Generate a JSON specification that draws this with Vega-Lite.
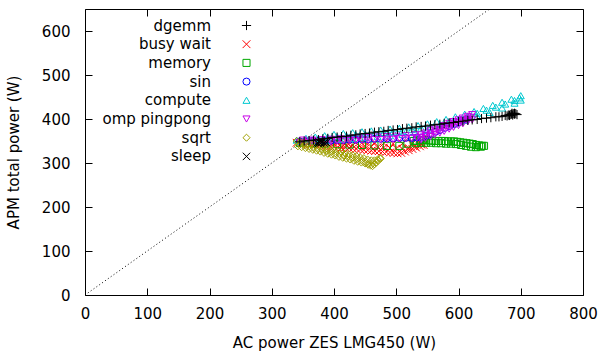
{
"$schema":"https://vega.github.io/schema/vega-lite/v6.json",
"width":498,"height":286,
"autosize":{"type":"none"},
"padding":{"left":85,"top":9,"right":17,"bottom":61},
"background":"white",
"config":{
 "view":{"stroke":"black","strokeWidth":1},
 "font":"DejaVu Sans",
 "axis":{"grid":false,"domainColor":"black","tickColor":"black","labelColor":"black","titleColor":"black","labelFont":"DejaVu Sans","titleFont":"DejaVu Sans","labelFontSize":15,"titleFontSize":15,"titleFontWeight":"normal","tickSize":-7,"labelPadding":12,"domain":false,"labelFlush":false},
 "legend":{"labelFont":"DejaVu Sans","labelFontSize":15,"labelColor":"black"}
},
"resolve":{"axis":{"x":"independent","y":"independent"}},
"layer":[
{"data":{"values":[{"x":0,"y":0},{"x":650,"y":650}]},
 "mark":{"type":"line","color":"black","strokeWidth":1,"strokeDash":[1,2.5]},
 "encoding":{
  "x":{"field":"x","type":"quantitative","scale":{"domain":[0,800],"nice":false,"zero":false},"axis":{"orient":"top","labels":false,"title":null,"values":[0,100,200,300,400,500,600,700,800]}},
  "y":{"field":"y","type":"quantitative","scale":{"domain":[0,650],"nice":false,"zero":false},"axis":{"orient":"right","labels":false,"title":null,"values":[0,100,200,300,400,500,600]}}
 }},
{"data":{"values":[
{"s":"busy wait","x":340,"y":346},{"s":"busy wait","x":346,"y":345},{"s":"busy wait","x":352,"y":344},{"s":"busy wait","x":358,"y":343},{"s":"busy wait","x":364,"y":342},{"s":"busy wait","x":370,"y":342},{"s":"busy wait","x":376,"y":341},{"s":"busy wait","x":382,"y":340},{"s":"busy wait","x":388,"y":339},{"s":"busy wait","x":394,"y":338},{"s":"busy wait","x":400,"y":337},{"s":"busy wait","x":406,"y":336},{"s":"busy wait","x":412,"y":335},{"s":"busy wait","x":418,"y":335},{"s":"busy wait","x":424,"y":334},{"s":"busy wait","x":430,"y":333},{"s":"busy wait","x":436,"y":332},{"s":"busy wait","x":442,"y":331},{"s":"busy wait","x":448,"y":330},{"s":"busy wait","x":454,"y":329},{"s":"busy wait","x":460,"y":328},{"s":"busy wait","x":466,"y":327},{"s":"busy wait","x":472,"y":327},{"s":"busy wait","x":478,"y":326},{"s":"busy wait","x":484,"y":325},{"s":"busy wait","x":490,"y":324},{"s":"busy wait","x":496,"y":323},{"s":"busy wait","x":502,"y":322},{"s":"busy wait","x":508,"y":323},{"s":"busy wait","x":514,"y":326},{"s":"busy wait","x":520,"y":329},{"s":"busy wait","x":526,"y":332},{"s":"busy wait","x":532,"y":335},{"s":"busy wait","x":538,"y":338},{"s":"busy wait","x":544,"y":341},
{"s":"busy wait","x":350,"y":347},{"s":"busy wait","x":360,"y":346},{"s":"busy wait","x":370,"y":345},{"s":"busy wait","x":380,"y":344},{"s":"busy wait","x":390,"y":343},{"s":"busy wait","x":400,"y":342},{"s":"busy wait","x":410,"y":341},{"s":"busy wait","x":420,"y":341},{"s":"busy wait","x":430,"y":340},{"s":"busy wait","x":440,"y":339},{"s":"busy wait","x":450,"y":338},{"s":"busy wait","x":460,"y":337},{"s":"busy wait","x":470,"y":336},{"s":"busy wait","x":480,"y":335},{"s":"busy wait","x":490,"y":334},{"s":"busy wait","x":500,"y":333},{"s":"busy wait","x":510,"y":332},{"s":"busy wait","x":520,"y":334},{"s":"busy wait","x":530,"y":338},{"s":"busy wait","x":540,"y":342},
{"s":"busy wait","x":360,"y":350},{"s":"busy wait","x":375,"y":350},{"s":"busy wait","x":390,"y":349},{"s":"busy wait","x":405,"y":349},{"s":"busy wait","x":420,"y":348},{"s":"busy wait","x":435,"y":347},{"s":"busy wait","x":450,"y":347},{"s":"busy wait","x":465,"y":346},{"s":"busy wait","x":480,"y":345},{"s":"busy wait","x":495,"y":344},{"s":"busy wait","x":510,"y":344},{"s":"busy wait","x":525,"y":343},{"s":"busy wait","x":540,"y":344},
{"s":"memory","x":345,"y":346},{"s":"memory","x":365,"y":345},{"s":"memory","x":385,"y":344},{"s":"memory","x":405,"y":343},{"s":"memory","x":425,"y":342},{"s":"memory","x":445,"y":341},{"s":"memory","x":465,"y":340},{"s":"memory","x":485,"y":339},{"s":"memory","x":505,"y":339},{"s":"memory","x":518,"y":344},
{"s":"memory","x":528,"y":350},{"s":"memory","x":533,"y":351},{"s":"memory","x":538,"y":352},{"s":"memory","x":543,"y":352},{"s":"memory","x":548,"y":352},{"s":"memory","x":553,"y":351},{"s":"memory","x":558,"y":351},{"s":"memory","x":563,"y":350},{"s":"memory","x":568,"y":350},{"s":"memory","x":573,"y":350},{"s":"memory","x":578,"y":350},{"s":"memory","x":583,"y":349},{"s":"memory","x":588,"y":349},{"s":"memory","x":593,"y":349},{"s":"memory","x":598,"y":348},{"s":"memory","x":603,"y":347},{"s":"memory","x":608,"y":346},{"s":"memory","x":613,"y":345},{"s":"memory","x":618,"y":344},{"s":"memory","x":623,"y":343},{"s":"memory","x":628,"y":341},{"s":"memory","x":633,"y":340},{"s":"memory","x":638,"y":339},{"s":"memory","x":641,"y":339},
{"s":"memory","x":532,"y":345},{"s":"memory","x":540,"y":346},{"s":"memory","x":548,"y":346},{"s":"memory","x":556,"y":346},{"s":"memory","x":564,"y":345},{"s":"memory","x":572,"y":345},{"s":"memory","x":580,"y":344},{"s":"memory","x":588,"y":344},{"s":"memory","x":596,"y":343},{"s":"memory","x":604,"y":341},{"s":"memory","x":612,"y":339},{"s":"memory","x":620,"y":337},{"s":"memory","x":628,"y":336},{"s":"memory","x":636,"y":337},
{"s":"sin","x":345,"y":349},{"s":"sin","x":355,"y":349},{"s":"sin","x":365,"y":350},{"s":"sin","x":375,"y":350},{"s":"sin","x":385,"y":351},{"s":"sin","x":395,"y":351},{"s":"sin","x":405,"y":352},{"s":"sin","x":415,"y":352},{"s":"sin","x":425,"y":353},{"s":"sin","x":435,"y":353},{"s":"sin","x":445,"y":354},{"s":"sin","x":455,"y":354},{"s":"sin","x":465,"y":355},{"s":"sin","x":475,"y":355},{"s":"sin","x":485,"y":356},{"s":"sin","x":495,"y":356},{"s":"sin","x":505,"y":357},{"s":"sin","x":515,"y":357},{"s":"sin","x":525,"y":357},{"s":"sin","x":533,"y":358},{"s":"sin","x":540,"y":358},{"s":"sin","x":548,"y":362},{"s":"sin","x":555,"y":366},{"s":"sin","x":563,"y":371},{"s":"sin","x":570,"y":375},{"s":"sin","x":578,"y":380},{"s":"sin","x":585,"y":384},{"s":"sin","x":593,"y":388},{"s":"sin","x":600,"y":392},{"s":"sin","x":606,"y":396},{"s":"sin","x":612,"y":399},
{"s":"compute","x":340,"y":352},{"s":"compute","x":355,"y":356},{"s":"compute","x":370,"y":359},{"s":"compute","x":385,"y":362},{"s":"compute","x":400,"y":365},{"s":"compute","x":415,"y":367},{"s":"compute","x":430,"y":369},{"s":"compute","x":445,"y":371},{"s":"compute","x":460,"y":373},{"s":"compute","x":475,"y":375},{"s":"compute","x":490,"y":377},{"s":"compute","x":505,"y":379},{"s":"compute","x":520,"y":382},{"s":"compute","x":535,"y":385},{"s":"compute","x":550,"y":389},{"s":"compute","x":565,"y":394},{"s":"compute","x":580,"y":399},{"s":"compute","x":595,"y":405},{"s":"compute","x":610,"y":411},{"s":"compute","x":625,"y":417},{"s":"compute","x":640,"y":424},{"s":"compute","x":655,"y":431},{"s":"compute","x":670,"y":438},{"s":"compute","x":685,"y":445},{"s":"compute","x":700,"y":453},
{"s":"compute","x":345,"y":349},{"s":"compute","x":360,"y":353},{"s":"compute","x":375,"y":356},{"s":"compute","x":390,"y":358},{"s":"compute","x":405,"y":360},{"s":"compute","x":420,"y":362},{"s":"compute","x":435,"y":364},{"s":"compute","x":450,"y":365},{"s":"compute","x":465,"y":367},{"s":"compute","x":480,"y":369},{"s":"compute","x":495,"y":371},{"s":"compute","x":510,"y":373},{"s":"compute","x":525,"y":376},{"s":"compute","x":540,"y":379},{"s":"compute","x":555,"y":383},{"s":"compute","x":570,"y":388},{"s":"compute","x":585,"y":394},{"s":"compute","x":600,"y":400},{"s":"compute","x":615,"y":406},{"s":"compute","x":630,"y":413},{"s":"compute","x":645,"y":420},{"s":"compute","x":660,"y":427},{"s":"compute","x":675,"y":434},{"s":"compute","x":690,"y":442},{"s":"compute","x":698,"y":448},
{"s":"compute","x":350,"y":346},{"s":"compute","x":370,"y":349},{"s":"compute","x":390,"y":352},{"s":"compute","x":410,"y":354},{"s":"compute","x":430,"y":356},{"s":"compute","x":450,"y":358},{"s":"compute","x":470,"y":360},{"s":"compute","x":490,"y":362},{"s":"compute","x":510,"y":365},{"s":"compute","x":530,"y":369},{"s":"compute","x":550,"y":374},{"s":"compute","x":570,"y":381},{"s":"compute","x":590,"y":389},{"s":"compute","x":610,"y":397},{"s":"compute","x":630,"y":406},{"s":"compute","x":650,"y":415},{"s":"compute","x":670,"y":425},{"s":"compute","x":690,"y":436},{"s":"compute","x":700,"y":443},
{"s":"omp pingpong","x":345,"y":347},{"s":"omp pingpong","x":355,"y":347},{"s":"omp pingpong","x":365,"y":348},{"s":"omp pingpong","x":375,"y":348},{"s":"omp pingpong","x":385,"y":349},{"s":"omp pingpong","x":395,"y":349},{"s":"omp pingpong","x":405,"y":350},{"s":"omp pingpong","x":415,"y":350},{"s":"omp pingpong","x":425,"y":351},{"s":"omp pingpong","x":435,"y":351},{"s":"omp pingpong","x":445,"y":352},{"s":"omp pingpong","x":455,"y":352},{"s":"omp pingpong","x":465,"y":353},{"s":"omp pingpong","x":475,"y":353},{"s":"omp pingpong","x":485,"y":354},{"s":"omp pingpong","x":495,"y":354},{"s":"omp pingpong","x":505,"y":355},{"s":"omp pingpong","x":515,"y":355},{"s":"omp pingpong","x":525,"y":356},{"s":"omp pingpong","x":533,"y":357},{"s":"omp pingpong","x":540,"y":358},
{"s":"omp pingpong","x":350,"y":352},{"s":"omp pingpong","x":365,"y":352},{"s":"omp pingpong","x":380,"y":353},{"s":"omp pingpong","x":395,"y":354},{"s":"omp pingpong","x":410,"y":355},{"s":"omp pingpong","x":425,"y":356},{"s":"omp pingpong","x":440,"y":357},{"s":"omp pingpong","x":455,"y":358},{"s":"omp pingpong","x":470,"y":359},{"s":"omp pingpong","x":485,"y":360},{"s":"omp pingpong","x":500,"y":361},{"s":"omp pingpong","x":515,"y":362},{"s":"omp pingpong","x":530,"y":364},
{"s":"omp pingpong","x":540,"y":364},{"s":"omp pingpong","x":547,"y":368},{"s":"omp pingpong","x":555,"y":373},{"s":"omp pingpong","x":562,"y":377},{"s":"omp pingpong","x":570,"y":381},{"s":"omp pingpong","x":577,"y":385},{"s":"omp pingpong","x":585,"y":390},{"s":"omp pingpong","x":592,"y":394},{"s":"omp pingpong","x":600,"y":398},{"s":"omp pingpong","x":607,"y":402},{"s":"omp pingpong","x":615,"y":406},{"s":"omp pingpong","x":622,"y":410},
{"s":"omp pingpong","x":540,"y":352},{"s":"omp pingpong","x":547,"y":356},{"s":"omp pingpong","x":555,"y":360},{"s":"omp pingpong","x":562,"y":364},{"s":"omp pingpong","x":570,"y":368},{"s":"omp pingpong","x":577,"y":372},{"s":"omp pingpong","x":585,"y":377},{"s":"omp pingpong","x":592,"y":381},{"s":"omp pingpong","x":600,"y":385},{"s":"omp pingpong","x":607,"y":389},{"s":"omp pingpong","x":615,"y":394},{"s":"omp pingpong","x":622,"y":398},
{"s":"omp pingpong","x":547,"y":362},{"s":"omp pingpong","x":555,"y":366},{"s":"omp pingpong","x":562,"y":370},{"s":"omp pingpong","x":570,"y":375},{"s":"omp pingpong","x":577,"y":379},{"s":"omp pingpong","x":585,"y":383},{"s":"omp pingpong","x":592,"y":388},{"s":"omp pingpong","x":600,"y":392},{"s":"omp pingpong","x":607,"y":396},{"s":"omp pingpong","x":615,"y":400},{"s":"omp pingpong","x":620,"y":404},
{"s":"sqrt","x":340,"y":350},{"s":"sqrt","x":346,"y":348},{"s":"sqrt","x":352,"y":346},{"s":"sqrt","x":358,"y":344},{"s":"sqrt","x":364,"y":342},{"s":"sqrt","x":370,"y":340},{"s":"sqrt","x":376,"y":338},{"s":"sqrt","x":382,"y":335},{"s":"sqrt","x":388,"y":333},{"s":"sqrt","x":394,"y":331},{"s":"sqrt","x":400,"y":329},{"s":"sqrt","x":406,"y":327},{"s":"sqrt","x":412,"y":325},{"s":"sqrt","x":418,"y":322},{"s":"sqrt","x":424,"y":320},{"s":"sqrt","x":430,"y":318},{"s":"sqrt","x":436,"y":316},{"s":"sqrt","x":442,"y":313},{"s":"sqrt","x":448,"y":311},{"s":"sqrt","x":454,"y":308},{"s":"sqrt","x":460,"y":306},{"s":"sqrt","x":465,"y":306},{"s":"sqrt","x":470,"y":308},{"s":"sqrt","x":474,"y":311},
{"s":"sqrt","x":342,"y":338},{"s":"sqrt","x":348,"y":336},{"s":"sqrt","x":354,"y":334},{"s":"sqrt","x":360,"y":332},{"s":"sqrt","x":366,"y":330},{"s":"sqrt","x":372,"y":328},{"s":"sqrt","x":378,"y":326},{"s":"sqrt","x":384,"y":323},{"s":"sqrt","x":390,"y":321},{"s":"sqrt","x":396,"y":319},{"s":"sqrt","x":402,"y":317},{"s":"sqrt","x":408,"y":314},{"s":"sqrt","x":414,"y":312},{"s":"sqrt","x":420,"y":310},{"s":"sqrt","x":426,"y":308},{"s":"sqrt","x":432,"y":305},{"s":"sqrt","x":438,"y":303},{"s":"sqrt","x":444,"y":301},{"s":"sqrt","x":450,"y":299},{"s":"sqrt","x":455,"y":296},{"s":"sqrt","x":459,"y":294},{"s":"sqrt","x":462,"y":293},{"s":"sqrt","x":465,"y":297},{"s":"sqrt","x":468,"y":301},{"s":"sqrt","x":471,"y":305},{"s":"sqrt","x":475,"y":310},
{"s":"sqrt","x":346,"y":343},{"s":"sqrt","x":353,"y":340},{"s":"sqrt","x":360,"y":338},{"s":"sqrt","x":367,"y":335},{"s":"sqrt","x":374,"y":332},{"s":"sqrt","x":381,"y":330},{"s":"sqrt","x":388,"y":327},{"s":"sqrt","x":395,"y":325},{"s":"sqrt","x":402,"y":322},{"s":"sqrt","x":409,"y":320},{"s":"sqrt","x":416,"y":317},{"s":"sqrt","x":423,"y":315},{"s":"sqrt","x":430,"y":312},{"s":"sqrt","x":437,"y":309},{"s":"sqrt","x":444,"y":306},{"s":"sqrt","x":450,"y":303},{"s":"sqrt","x":456,"y":300},{"s":"sqrt","x":462,"y":299},
{"s":"dgemm","x":345,"y":348},{"s":"dgemm","x":352,"y":350},{"s":"dgemm","x":360,"y":351},{"s":"dgemm","x":367,"y":352},{"s":"dgemm","x":375,"y":353},{"s":"dgemm","x":382,"y":355},{"s":"dgemm","x":390,"y":356},{"s":"dgemm","x":397,"y":358},{"s":"dgemm","x":405,"y":359},{"s":"dgemm","x":412,"y":360},{"s":"dgemm","x":420,"y":361},{"s":"dgemm","x":427,"y":363},{"s":"dgemm","x":435,"y":364},{"s":"dgemm","x":442,"y":366},{"s":"dgemm","x":450,"y":367},{"s":"dgemm","x":457,"y":368},{"s":"dgemm","x":465,"y":370},{"s":"dgemm","x":472,"y":371},{"s":"dgemm","x":480,"y":372},{"s":"dgemm","x":487,"y":374},{"s":"dgemm","x":495,"y":375},{"s":"dgemm","x":502,"y":376},{"s":"dgemm","x":510,"y":378},{"s":"dgemm","x":517,"y":379},{"s":"dgemm","x":525,"y":380},{"s":"dgemm","x":532,"y":382},{"s":"dgemm","x":540,"y":383},{"s":"dgemm","x":547,"y":384},{"s":"dgemm","x":555,"y":386},{"s":"dgemm","x":562,"y":387},{"s":"dgemm","x":570,"y":388},{"s":"dgemm","x":577,"y":390},{"s":"dgemm","x":585,"y":391},{"s":"dgemm","x":592,"y":392},{"s":"dgemm","x":600,"y":394},{"s":"dgemm","x":607,"y":395},{"s":"dgemm","x":615,"y":397},{"s":"dgemm","x":622,"y":398},{"s":"dgemm","x":630,"y":399},{"s":"dgemm","x":637,"y":401},{"s":"dgemm","x":645,"y":402},{"s":"dgemm","x":652,"y":403},{"s":"dgemm","x":660,"y":405},{"s":"dgemm","x":665,"y":405},{"s":"dgemm","x":670,"y":406},{"s":"dgemm","x":675,"y":408},{"s":"dgemm","x":678,"y":407},{"s":"dgemm","x":680,"y":409},{"s":"dgemm","x":683,"y":410},{"s":"dgemm","x":685,"y":411},{"s":"dgemm","x":687,"y":409},{"s":"dgemm","x":688,"y":412},{"s":"dgemm","x":690,"y":411},{"s":"dgemm","x":692,"y":412},{"s":"dgemm","x":694,"y":410},{"s":"dgemm","x":690,"y":413},{"s":"dgemm","x":682,"y":408},{"s":"dgemm","x":686,"y":413},
{"s":"sleep","x":373,"y":346},{"s":"sleep","x":376,"y":348},{"s":"sleep","x":378,"y":345},{"s":"sleep","x":380,"y":347},{"s":"sleep","x":382,"y":349},{"s":"sleep","x":384,"y":346},{"s":"sleep","x":386,"y":348},{"s":"sleep","x":379,"y":350},{"s":"sleep","x":388,"y":347},{"s":"sleep","x":375,"y":344}
]},
 "mark":{"type":"point","filled":false,"size":50,"strokeWidth":1,"opacity":1},
 "encoding":{
  "x":{"field":"x","type":"quantitative","title":"AC power ZES LMG450 (W)","axis":{"values":[0,100,200,300,400,500,600,700,800],"labelPadding":18,"titlePadding":14}},
  "y":{"field":"y","type":"quantitative","title":"APM total power (W)","axis":{"values":[0,100,200,300,400,500,600],"labelPadding":22,"titlePadding":20}},
  "color":{"field":"s","type":"nominal","scale":{"domain":["dgemm","busy wait","memory","sin","compute","omp pingpong","sqrt","sleep"],"range":["#000000","#ff0000","#00a800","#0000ff","#00c8d0","#c800e8","#a0a000","#000000"]},
   "legend":{"orient":"none","legendX":154,"legendY":9,"title":null,"labelAlign":"right","labelOffset":-43,"rowPadding":2.7,"padding":0,"symbolStrokeWidth":1,"symbolSize":50,"labelLimit":300}},
  "shape":{"field":"s","type":"nominal","scale":{"domain":["dgemm","busy wait","memory","sin","compute","omp pingpong","sqrt","sleep"],"range":["M-1.3,0L1.3,0M0,-1.3L0,1.3","M-1.1,-1.1L1.1,1.1M-1.1,1.1L1.1,-1.1","square","circle","triangle-up","triangle-down","diamond","M-1.05,-1.05L1.05,1.05M-1.05,1.05L1.05,-1.05"]},
   "legend":{"orient":"none","legendX":154,"legendY":9,"title":null,"labelAlign":"right","labelOffset":-43,"rowPadding":2.7,"padding":0,"symbolStrokeWidth":1,"symbolSize":50,"labelLimit":300}}
 }}
]
}
